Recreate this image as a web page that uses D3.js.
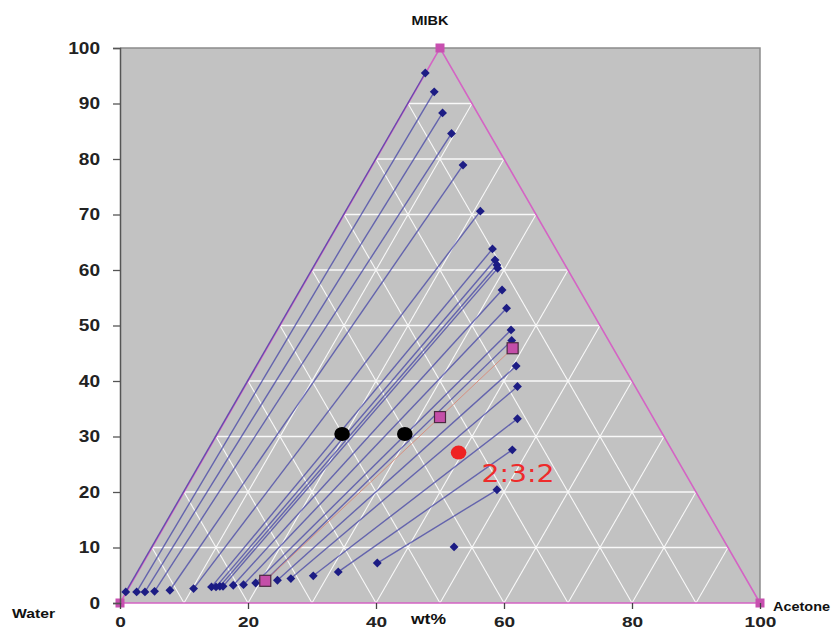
<!DOCTYPE html>
<html>
<head>
<meta charset="utf-8">
<script src="https://cdn.jsdelivr.net/npm/d3@7"></script>
<style>
  html, body { margin: 0; padding: 0; background: #ffffff; }
  svg { display: block; }
</style>
</head>
<body>
<svg id="chart" width="832" height="629"></svg>
<script>
// ---------- data (plotted ternary coordinates, wt%) ----------
const xTicks = [0, 20, 40, 60, 80, 100];
const yTicks = [0, 10, 20, 30, 40, 50, 60, 70, 80, 90, 100];
const gridLevels = [10, 20, 30, 40, 50, 60, 70, 80, 90];

// triangle vertices: Water, MIBK, Acetone
const vertexNames = ["Water", "MIBK", "Acetone"];
const vertexX = [0, 50, 100];
const vertexY = [0, 100, 0];

// tie lines: raffinate (water-rich) end and extract (MIBK-rich) end
const raffX = [0.9, 2.6, 3.9, 5.4, 7.8, 11.5, 14.3, 15.0, 15.6, 16.1, 17.7, 19.3, 21.2, 22.6, 24.6, 26.7, 30.2, 34.1, 40.2];
const raffY = [2.0, 2.0, 2.0, 2.1, 2.3, 2.6, 2.9, 2.9, 3.0, 3.0, 3.2, 3.3, 3.6, 3.9, 4.1, 4.4, 4.9, 5.6, 7.2];
const extX  = [47.7, 49.1, 50.4, 51.8, 53.6, 56.3, 58.2, 58.6, 58.9, 59.0, 59.7, 60.4, 61.1, 61.2, 61.9, 62.1, 62.1, 61.3, 58.9];
const extY  = [95.5, 92.1, 88.3, 84.6, 78.9, 70.6, 63.8, 61.8, 60.9, 60.3, 56.4, 53.1, 49.2, 47.3, 42.7, 39.0, 33.2, 27.6, 20.4];

// lone curve point
const loneX = [52.2];
const loneY = [10.1];

// operating tie line (pink squares)
const opX = [22.7, 50.0, 61.35];
const opY = [4.0, 33.5, 45.9];

// black and red mixture points
const blackX = [34.7, 44.5];
const blackY = [30.45, 30.45];
const redX = [52.9];
const redY = [27.1];
const redLabel = "2:3:2";

// ---------- drawing ----------
const svg = d3.select("#chart");
const x = d3.scaleLinear().domain([0, 100]).range([120, 760]);
const y = d3.scaleLinear().domain([0, 100]).range([603, 48]);

// plot area
svg.append("rect")
  .attr("x", x(0)).attr("y", y(100))
  .attr("width", x(100) - x(0)).attr("height", y(0) - y(100))
  .attr("fill", "#c2c2c2");
// top and right border
svg.append("path")
  .attr("d", `M${x(0)},${y(100)}H${x(100)}V${y(0)}`)
  .attr("fill", "none").attr("stroke", "#8c8c8c").attr("stroke-width", 1.5);

// ternary grid (white)
const toXY = (ac, mi) => [x(ac + mi / 2), y(mi)];
const gridG = svg.append("g").attr("stroke", "#ffffff").attr("stroke-width", 1.1).attr("fill", "none").attr("opacity", 0.9);
gridLevels.forEach(v => {
  // constant MIBK (horizontal)
  let a = toXY(0, v), b = toXY(100 - v, v);
  gridG.append("line").attr("x1", a[0]).attr("y1", a[1]).attr("x2", b[0]).attr("y2", b[1]).attr("stroke-width", 1.4);
  // constant acetone
  a = toXY(v, 0); b = toXY(v, 100 - v);
  gridG.append("line").attr("x1", a[0]).attr("y1", a[1]).attr("x2", b[0]).attr("y2", b[1]);
  // constant water: acetone + mibk = 100 - w
  a = toXY(v, 0); b = toXY(0, v);
  gridG.append("line").attr("x1", a[0]).attr("y1", a[1]).attr("x2", b[0]).attr("y2", b[1]);
});

// triangle outline
const tri = d3.line().x((d, i) => x(vertexX[i])).y((d, i) => y(vertexY[i]));
svg.append("path")
  .attr("d", tri(vertexX) + "Z")
  .attr("fill", "none").attr("stroke", "#d464c4").attr("stroke-width", 1.6);

// tie lines
const tieG = svg.append("g");
raffX.forEach((d, i) => {
  tieG.append("line")
    .attr("x1", x(raffX[i])).attr("y1", y(raffY[i]))
    .attr("x2", x(extX[i])).attr("y2", y(extY[i]))
    .attr("stroke", "#3c3ca4").attr("stroke-opacity", 0.7).attr("stroke-width", 1.4);
});

// operating line (thin salmon)
svg.append("path")
  .attr("d", d3.line().x((d, i) => x(opX[i])).y((d, i) => y(opY[i]))(opX))
  .attr("fill", "none").attr("stroke", "#d98a78").attr("stroke-width", 0.9);

// diamonds
const diamond = d3.symbol().type(d3.symbolDiamond2).size(50);
const allDX = raffX.concat(extX, loneX);
const allDY = raffY.concat(extY, loneY);
svg.append("g").selectAll("path").data(allDX).join("path")
  .attr("d", diamond)
  .attr("transform", (d, i) => `translate(${x(allDX[i])},${y(allDY[i])})`)
  .attr("fill", "#1c1c84");

// operating squares
svg.append("g").selectAll("rect").data(opX).join("rect")
  .attr("x", (d, i) => x(opX[i]) - 5.5).attr("y", (d, i) => y(opY[i]) - 5.5)
  .attr("width", 11).attr("height", 11)
  .attr("fill", "#c44ea8").attr("stroke", "#4a2a40").attr("stroke-width", 1.2);

// vertex squares
svg.append("g").selectAll("rect").data(vertexX).join("rect")
  .attr("x", (d, i) => x(vertexX[i]) - 4.5).attr("y", (d, i) => y(vertexY[i]) - 4.5)
  .attr("width", 9).attr("height", 9)
  .attr("fill", "#c850b0");

// black points
svg.append("g").selectAll("ellipse").data(blackX).join("ellipse")
  .attr("cx", (d, i) => x(blackX[i])).attr("cy", (d, i) => y(blackY[i]))
  .attr("rx", 7.8).attr("ry", 7).attr("fill", "#000000");

// red point
svg.append("g").selectAll("ellipse").data(redX).join("ellipse")
  .attr("cx", (d, i) => x(redX[i])).attr("cy", (d, i) => y(redY[i]))
  .attr("rx", 7.8).attr("ry", 7).attr("fill", "#ee2222");

svg.append("text")
  .attr("x", x(redX[0]) + 23).attr("y", y(redY[0]) + 29)
  .attr("font-family", "'DejaVu Sans', Verdana, sans-serif").attr("font-size", 25)
  .attr("textLength", 73).attr("lengthAdjust", "spacingAndGlyphs")
  .attr("fill", "#ee2b2b").text(redLabel);

// axes
const yAxis = svg.append("g")
  .attr("transform", `translate(${x(0)},0)`)
  .call(d3.axisLeft(y).tickValues(yTicks).tickSize(7).tickPadding(13).tickFormat(d3.format("d")));
yAxis.select(".domain").attr("stroke", "#555555").attr("stroke-width", 1.5);
yAxis.selectAll(".tick line").attr("stroke", "#555555").attr("stroke-width", 1.3);
yAxis.selectAll(".tick text")
  .attr("font-family", "'Liberation Sans', Arial, sans-serif").attr("font-weight", "bold")
  .attr("font-size", 16).attr("fill", "#222222")
  .attr("textLength", d => String(d).length * 10.6).attr("lengthAdjust", "spacingAndGlyphs");

const xAxis = svg.append("g")
  .attr("transform", `translate(0,${y(0)})`)
  .call(d3.axisBottom(x).tickValues(xTicks).tickSize(6).tickPadding(7).tickFormat(d3.format("d")));
xAxis.select(".domain").remove();
xAxis.selectAll(".tick line").attr("stroke", "#444444").attr("stroke-width", 1.3);
xAxis.selectAll(".tick text")
  .attr("font-family", "'Liberation Sans', Arial, sans-serif").attr("font-weight", "bold")
  .attr("font-size", 15).attr("fill", "#222222")
  .attr("textLength", d => String(d).length * 10.6).attr("lengthAdjust", "spacingAndGlyphs");

// component labels
const lblFont = "'Liberation Sans', Arial, sans-serif";
svg.append("text").attr("x", 430).attr("y", 25).attr("text-anchor", "middle")
  .attr("font-family", lblFont).attr("font-weight", "bold").attr("font-size", 13.5).attr("fill", "#111")
  .attr("textLength", 37).attr("lengthAdjust", "spacingAndGlyphs").text(vertexNames[1]);
svg.append("text").attr("x", 12).attr("y", 618)
  .attr("font-family", lblFont).attr("font-weight", "bold").attr("font-size", 13.5).attr("fill", "#111")
  .attr("textLength", 43).attr("lengthAdjust", "spacingAndGlyphs").text(vertexNames[0]);
svg.append("text").attr("x", 773).attr("y", 611)
  .attr("font-family", lblFont).attr("font-weight", "bold").attr("font-size", 13.5).attr("fill", "#111")
  .attr("textLength", 57).attr("lengthAdjust", "spacingAndGlyphs").text(vertexNames[2]);
svg.append("text").attr("x", 411).attr("y", 624)
  .attr("font-family", lblFont).attr("font-weight", "bold").attr("font-size", 14).attr("fill", "#111")
  .attr("textLength", 35).attr("lengthAdjust", "spacingAndGlyphs").text("wt%");
</script>
</body>
</html>
